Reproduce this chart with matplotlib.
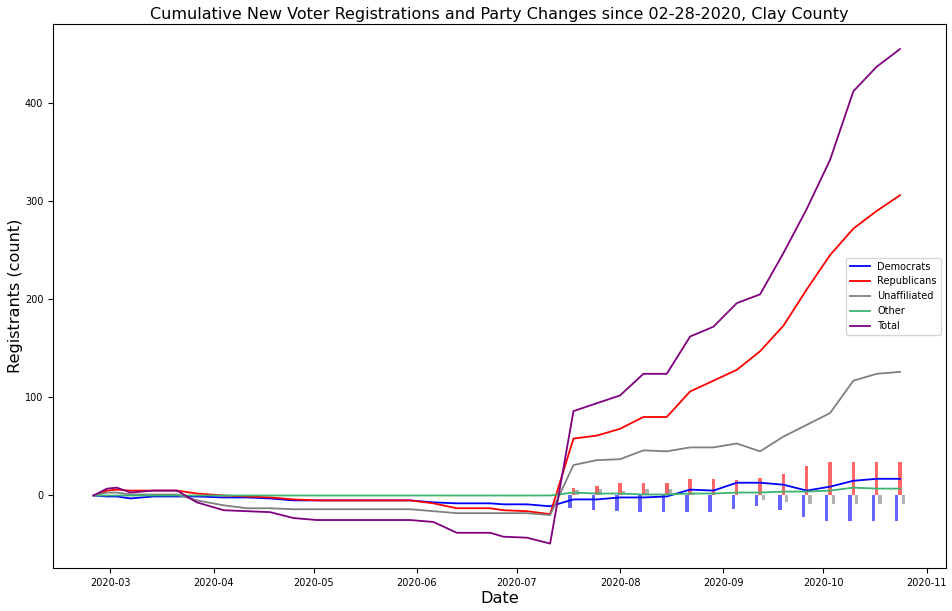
import matplotlib
matplotlib.use("Agg")
import matplotlib.pyplot as plt
import pandas as pd

dates = ['2020-02-25', '2020-02-29', '2020-03-03', '2020-03-07', '2020-03-14', '2020-03-21',
         '2020-03-27', '2020-04-04', '2020-04-11', '2020-04-18', '2020-04-25', '2020-05-02',
         '2020-05-09', '2020-05-16', '2020-05-23', '2020-05-30', '2020-06-06', '2020-06-13',
         '2020-06-23', '2020-06-27', '2020-07-04', '2020-07-11', '2020-07-18', '2020-07-25',
         '2020-08-01', '2020-08-08', '2020-08-15', '2020-08-22', '2020-08-29', '2020-09-05',
         '2020-09-12', '2020-09-19', '2020-09-26', '2020-10-03', '2020-10-10', '2020-10-17',
         '2020-10-24']

democrats = [0, -1, -1, -3, -1, -1, -1, -2, -2, -3, -5, -5, -5, -5, -5, -5, -7, -8, -8, -9, -9, -11,
             -4, -4, -2, -2, -1, 6, 5, 13, 13, 11, 5, 9, 15, 17, 17]
republicans = [0, 5, 6, 5, 5, 5, 2, 0, -1, -2, -4, -5, -5, -5, -5, -5, -8, -13, -13, -15, -16, -19,
               58, 61, 68, 80, 80, 106, 117, 128, 147, 173, 210, 245, 272, 290, 306]
unaffiliated = [0, 3, 3, 1, 1, 1, -5, -10, -13, -13, -14, -14, -14, -14, -14, -14, -16, -18, -18, -18, -18, -20,
                31, 36, 37, 46, 45, 49, 49, 53, 45, 60, 72, 84, 117, 124, 126]
other = [0, 0, 0, 0, 0, 0, 0, 0, 0, 0, 0, 0, 0, 0, 0, 0, 0, 0, 0, 0, 0, 0,
         3, 2, 2, 1, 1, 2, 2, 3, 3, 4, 4, 5, 8, 7, 7]
total = [0, 7, 8, 3, 5, 5, -7, -15, -16, -17, -23, -25, -25, -25, -25, -25, -27, -38, -38, -42, -43, -49,
         86, 94, 102, 124, 124, 162, 172, 196, 205, 247, 292, 342, 412, 437, 455]

change_dates = ['2020-07-18', '2020-07-25', '2020-08-01', '2020-08-08', '2020-08-15', '2020-08-22',
                '2020-08-29', '2020-09-05', '2020-09-12', '2020-09-19', '2020-09-26', '2020-10-03',
                '2020-10-10', '2020-10-17', '2020-10-24']
dem_changes = [-13, -15, -16, -17, -17, -17, -17, -14, -11, -15, -22, -26, -26, -26, -26]
rep_changes = [8, 10, 13, 13, 13, 17, 17, 16, 18, 22, 30, 34, 34, 34, 34]
una_changes = [6, 7, 5, 7, 7, 3, 1, 0, -5, -7, -9, -9, -9, -9, -9]

x = pd.to_datetime(dates)
xc = pd.to_datetime(change_dates)
day = pd.Timedelta(days=1)

fig = plt.figure(figsize=(9.53, 6.11), dpi=100)
ax = fig.add_axes([53 / 953, 1 - 568.3 / 611, (945.7 - 53) / 953, (568.3 - 24.3) / 611])

bw = 1.05
ax.bar(xc - day, dem_changes, width=bw, color='blue', alpha=0.6, zorder=1)
ax.bar(xc, rep_changes, width=bw, color='red', alpha=0.6, zorder=1)
ax.bar(xc + day, una_changes, width=bw, color='gray', alpha=0.6, zorder=1)

lw = 1.3
ax.plot(x, democrats, color='blue', lw=lw, label='Democrats', zorder=2)
ax.plot(x, republicans, color='red', lw=lw, label='Republicans', zorder=2)
ax.plot(x, unaffiliated, color='gray', lw=lw, label='Unaffiliated', zorder=2)
ax.plot(x, other, color='mediumseagreen', lw=lw, label='Other', zorder=2)
ax.plot(x, total, color='purple', lw=lw, label='Total', zorder=2)

ax.set_title('Cumulative New Voter Registrations and Party Changes since 02-28-2020, Clay County',
             fontsize=11.55, pad=4)
ax.set_xlabel('Date', fontsize=11.6, labelpad=2)
ax.set_ylabel('Registrants (count)', fontsize=11.6, labelpad=1.5)
ax.tick_params(labelsize=7)
ax.set_yticks([0, 100, 200, 300, 400])
ax.legend(loc='center right', fontsize=7)

fig.savefig('out.png', dpi=100)
